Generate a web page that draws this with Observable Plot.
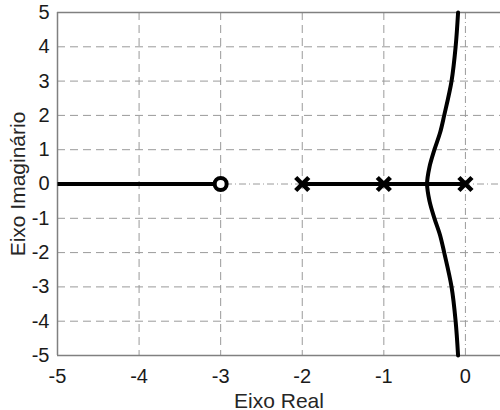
<!DOCTYPE html>
<html>
<head>
<meta charset="utf-8">
<script src="https://cdn.jsdelivr.net/npm/d3@7"></script>
<script src="https://cdn.jsdelivr.net/npm/@observablehq/plot@0.6"></script>
<style>
  html, body { margin: 0; padding: 0; background: #fff; }
  svg { display: block; }
</style>
</head>
<body>
<div id="chart"></div>
<script>
// Complex branches of the root locus
const branchY = [-5, -4, -3, -2, -1.5, -1, -0.5, 0, 0.5, 1, 1.5, 2, 3, 4, 5];
const branchX = [-0.09, -0.12, -0.17, -0.26, -0.31, -0.38, -0.44, -0.47, -0.44, -0.38, -0.31, -0.26, -0.17, -0.12, -0.09];
// Real-axis locus segments
const segStart = [-5, -2];
const segEnd = [-3, 0];
// Poles and zeros
const poles = [0, -1, -2];
const zeros = [-3];
// Ticks
const xTicks = [-5, -4, -3, -2, -1, 0];
const yTicks = [-5, -4, -3, -2, -1, 0, 1, 2, 3, 4, 5];
const xGrid = [-4, -3, -2, -1];
const yGrid = [-4, -3, -2, -1, 1, 2, 3, 4];

const branch = branchY.map((y, i) => ({x: branchX[i], y}));
const segs = segStart.map((s, i) => ({x1: s, x2: segEnd[i]}));

const font = "Liberation Sans, Arial, Helvetica, sans-serif";
const fmt = d => String(d);

const chart = Plot.plot({
  width: 500,
  height: 410,
  marginLeft: 57,
  marginTop: 12,
  marginBottom: 55,
  marginRight: 0,
  style: {fontFamily: font, fontSize: "19px", color: "#1a1a1a", background: "#fff"},
  x: {domain: [-5, 0.43]},
  y: {domain: [-5, 5]},
  marks: [
    Plot.gridX(xGrid, {stroke: "#9a9a9a", strokeOpacity: 1, strokeWidth: 1, strokeDasharray: "8,5"}),
    Plot.gridY(yGrid, {stroke: "#9a9a9a", strokeOpacity: 1, strokeWidth: 1, strokeDasharray: "8,5"}),
    Plot.ruleX([0], {stroke: "#9a9a9a", strokeWidth: 1, strokeDasharray: "7,3,1,3"}),
    Plot.ruleY([0], {stroke: "#9a9a9a", strokeWidth: 1, strokeDasharray: "7,3,1,3"}),
    Plot.ruleX([-5], {stroke: "#808080", strokeWidth: 1.5}),
    Plot.ruleY([-5, 5], {stroke: "#808080", strokeWidth: 1.5}),
    Plot.axisX(xTicks, {tickSize: 0, tickPadding: 13, tickFormat: fmt, label: null, fill: "#1a1a1a"}),
    Plot.axisX({ticks: [], label: "Eixo Real", labelAnchor: "center", labelArrow: "none", labelOffset: 52, fill: "#262626"}),
    Plot.axisY(yTicks, {tickSize: 0, tickPadding: 8, tickFormat: fmt, label: null, fill: "#1a1a1a"}),
    Plot.axisY({ticks: [], label: "Eixo Imaginário", labelAnchor: "center", labelArrow: "none", labelOffset: 47, fill: "#262626"}),
    Plot.link(segs, {x1: "x1", x2: "x2", y1: () => 0, y2: () => 0, stroke: "#000", strokeWidth: 4}),
    Plot.line(branch, {x: "x", y: "y", curve: "catmull-rom", stroke: "#000", strokeWidth: 4}),
    Plot.dot(poles, {x: d => d, y: () => 0, symbol: "times", r: 6, stroke: "#000", strokeWidth: 4.5}),
    Plot.dot(zeros, {x: d => d, y: () => 0, symbol: "circle", r: 6, stroke: "#000", fill: "#fff", strokeWidth: 4})
  ]
});
const svg = d3.select(chart);
svg.selectAll('g[aria-label="x-axis tick label"], g[aria-label="y-axis tick label"]')
  .attr("font-size", 20).style("font-size", "20px");
svg.selectAll('g[aria-label="x-axis label"], g[aria-label="y-axis label"]')
  .attr("font-size", 21).style("font-size", "21px");
document.getElementById("chart").appendChild(chart);
</script>
</body>
</html>
